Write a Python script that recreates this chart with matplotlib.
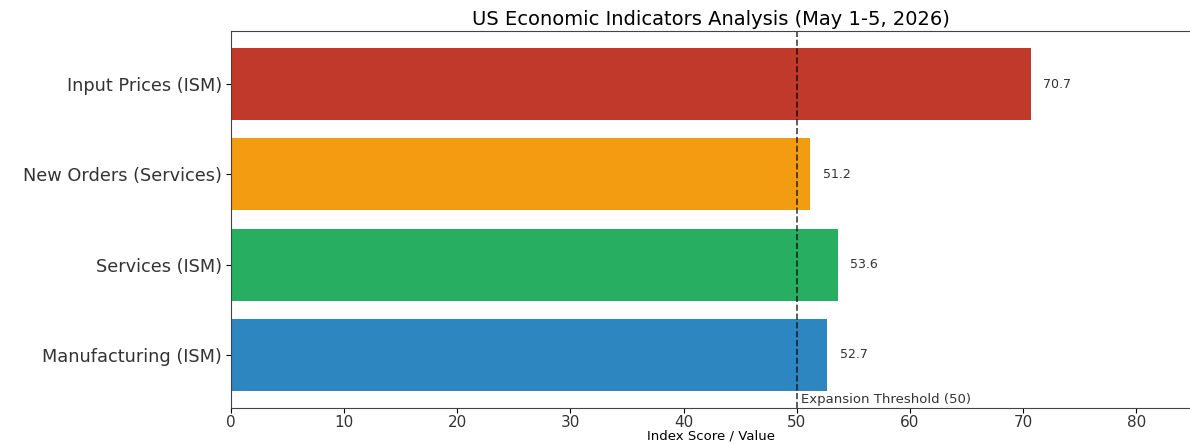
import matplotlib
matplotlib.use("Agg")
import matplotlib.pyplot as plt

plt.rcParams['font.family'] = ['DejaVu Sans']

# indicators, bottom to top
indicators = ["Manufacturing (ISM)", "Services (ISM)", "New Orders (Services)", "Input Prices (ISM)"]
values = [52.7, 53.6, 51.2, 70.7]
colors = ["#2e86c1", "#27ae60", "#f39c12", "#c0392b"]
threshold = 50

fig = plt.figure(figsize=(11.9, 4.44), dpi=100)
ax = fig.add_axes([231 / 1190, 36 / 444, 960 / 1190, 377 / 444])

bars = ax.barh(indicators, values, color=colors, height=0.8)

# value labels next to each bar
for bar, v in zip(bars, values):
    ax.text(v + 1.1, bar.get_y() + bar.get_height() / 2, f"{v}",
            va="center", ha="left", fontsize=9, color="#333333")

ax.axvline(threshold, color="black", linestyle="--", linewidth=1.2, alpha=0.75)
ax.text(threshold + 0.4, -0.5, "Expansion Threshold (50)", va="center", ha="left",
        fontsize=9.5, color="#333333")

ax.set_xlim(0, max(values) * 1.2)
ax.set_title("US Economic Indicators Analysis (May 1-5, 2026)", fontsize=14, pad=4)
ax.set_xlabel("Index Score / Value", fontsize=9.5, labelpad=0)
ax.tick_params(axis="y", labelsize=12.8, pad=3, labelcolor="#333333")
ax.tick_params(axis="x", labelsize=11, pad=1.5, labelcolor="#333333")

for s in ax.spines.values():
    s.set_color("#444444")

fig.savefig("out.png", dpi=100)
